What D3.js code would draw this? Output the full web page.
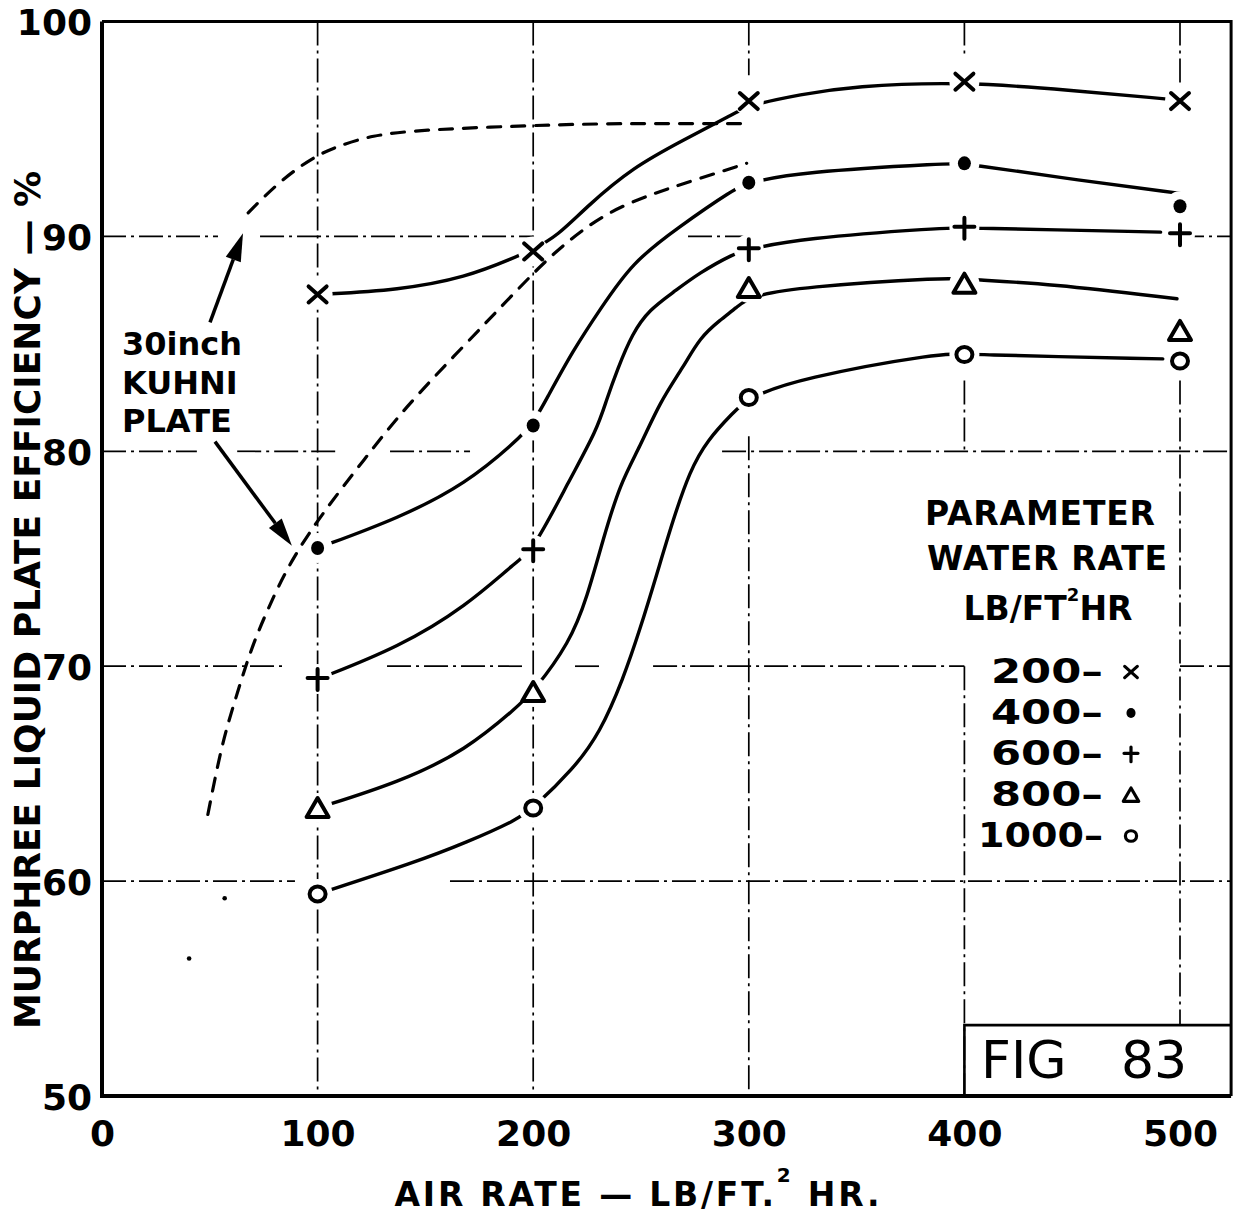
<!DOCTYPE html>
<html>
<head>
<meta charset="utf-8">
<script src="https://cdn.jsdelivr.net/npm/d3@7"></script>
<style>
  body { margin: 0; background: #fff; }
  text { font-family: "DejaVu Sans", sans-serif; font-weight: bold; fill: #000; }
</style>
</head>
<body>
<svg id="chart" width="1233" height="1215"></svg>
<script>
// ---- data ---------------------------------------------------------------
const airRates   = [100, 200, 300, 400, 500];          // lb/ft² hr
const waterRates = [200, 400, 600, 800, 1000];          // parameter, lb/ft² hr
const symbolKinds = ["cross", "dot", "plus", "triangle", "ring"];

// measured Murphree liquid plate efficiency (%) at each air rate
const eff200  = [87.3, 89.3, 96.3, 97.2, 96.3];
const eff400  = [75.5, 81.2, 92.5, 93.4, 91.4];
const eff600  = [69.4, 75.4, 89.4, 90.4, 90.1];
const eff800  = [63.4, 68.8, 87.6, 87.8, 85.6];
const eff1000 = [59.4, 63.4, 82.5, 84.5, 84.2];

// hand-faired curves through the measurements: [air rate, efficiency]
const curve200 = [[100,87.3],[138,87.5],[169,88.1],[191,89.0],[200,89.4],[211,90.0],[225,91.4],[246,93.2],[270,94.5],[293,95.7],[300,96.1],[324,96.6],[348,97.0],[400,97.2],[449,96.8],[493,96.4]];
const curve400 = [[100,75.5],[138,76.9],[169,78.5],[192.5,80.5],[200,81.3],[206,82.4],[218.5,84.7],[231,86.6],[246,88.8],[267,90.4],[293,92.2],[300,92.5],[324,93.0],[393,93.4],[400,93.4],[454,92.6],[500,92.0]];
const curve600 = [[100,69.4],[138,70.9],[169,72.8],[192.5,74.9],[200,75.4],[217,78.7],[229.6,81.0],[234,82.4],[239,83.8],[246,85.5],[254,86.6],[265,87.4],[277,88.3],[293,89.2],[300,89.4],[324,89.9],[389,90.4],[400,90.4],[491,90.2]];
const curve800 = [[100,63.4],[138,64.6],[169,66.1],[192.5,68.1],[200,68.8],[217,71.1],[225,73.2],[232.4,75.9],[240.3,78.5],[249.5,80.2],[258.8,82.3],[269.5,83.9],[277.4,85.3],[286.6,86.1],[294.5,86.7],[300,87.2],[324,87.65],[393,88.1],[400,88.0],[440,87.8],[498.6,87.1]];
const curve1000 = [[100,59.4],[146,60.9],[169,61.8],[192.5,62.85],[200,63.4],[218.5,65.2],[231,66.9],[241.7,69.4],[249.5,71.7],[257.4,74.3],[264.8,76.8],[272.7,79.1],[280.6,80.5],[292.7,81.8],[300,82.5],[323.7,83.4],[390,84.6],[400,84.5],[492,84.3]];

// 30 inch Kuhni plate comparison curves (dashed)
const kuhniUpper = [[67.8,91.1],[82.7,92.6],[98.1,93.7],[109.3,94.2],[125,94.7],[146.7,94.95],[194.9,95.15],[232,95.25],[265,95.25],[297.7,95.25]];
const kuhniLower = [[49.1,63.1],[55.6,66.4],[61.7,68.4],[68.7,70.7],[76.6,72.6],[87.4,74.9],[102.8,77.2],[121.5,79.6],[140.2,82.0],[166.8,84.8],[192.5,87.5],[208.9,89.2],[232.2,91.05],[255.6,92.0],[274.3,92.6],[299,93.4]];
const specks = [[56.9,59.2],[40.4,56.4]];

// axis ticks
const xTicks = [0, 100, 200, 300, 400, 500];
const yTicks = [50, 60, 70, 80, 90, 100];
const xFrameMax = 523.7;

// visible stretches of the ruled grid, in data units
const gridXSpans = [
  [100, [[50,100]]],
  [200, [[50,100]]],
  [300, [[50,80.7],[97.5,100]]],
  [400, [[50,70],[80,83.3],[98.3,100]]],
  [500, [[53.3,83.3],[96.8,100]]]
];
const gridYSpans = [
  [90, [[0,53.8],[73.3,200],[271.8,300],[500,xFrameMax]]],
  [80, [[0,44],[62.7,109],[133.6,170.7],[287.6,xFrameMax]]],
  [70, [[0,85.8],[132.2,196.5],[219.4,232.3],[255.6,400],[500,xFrameMax]]],
  [60, [[0,89.5],[161.4,xFrameMax]]]
];

// annotation arrows [from, to] in data units
const kuhniArrows = [
  [[50.1,86.0],[65.4,90.15]],
  [[52.4,80.45],[88.1,75.6]]
];

// ---- scales -------------------------------------------------------------
const x = d3.scaleLinear().domain([0, 500]).range([102, 1180]);
const y = d3.scaleLinear().domain([50, 100]).range([1096, 21.5]);

const svg = d3.select("#chart");
const series = [eff200, eff400, eff600, eff800, eff1000].map((eff, i) => ({
  rate: waterRates[i], kind: symbolKinds[i], eff,
  curve: [curve200, curve400, curve600, curve800, curve1000][i]
}));

// mask that opens gaps in the grid and the curves around each plotted point
const defs = svg.append("defs");
const mask = defs.append("mask").attr("id", "knock")
  .attr("maskUnits", "userSpaceOnUse")
  .attr("x", 0).attr("y", 0).attr("width", 1233).attr("height", 1215);
mask.append("rect").attr("width", 1233).attr("height", 1215).attr("fill", "#fff");
series.forEach(s => s.eff.forEach((v, j) => {
  mask.append("circle").attr("cx", x(airRates[j])).attr("cy", y(v)).attr("r", 15).attr("fill", "#000");
}));

const masked = svg.append("g").attr("mask", "url(#knock)");

// grid
const grid = masked.append("g").attr("stroke", "#000").attr("stroke-width", 1.7)
  .attr("stroke-dasharray", "24 5 3 5").attr("fill", "none");
gridXSpans.forEach(([gx, spans]) => spans.forEach(([a, b]) => {
  grid.append("line").attr("x1", x(gx)).attr("x2", x(gx)).attr("y1", y(b)).attr("y2", y(a));
}));
gridYSpans.forEach(([gy, spans]) => spans.forEach(([a, b]) => {
  grid.append("line").attr("x1", x(a)).attr("x2", x(b)).attr("y1", y(gy)).attr("y2", y(gy));
}));

// faired curves
const line = d3.line().x(d => x(d[0])).y(d => y(d[1])).curve(d3.curveBasis);
masked.append("g").selectAll("path").data(series).join("path")
  .attr("d", d => line(d.curve))
  .attr("fill", "none").attr("stroke", "#000").attr("stroke-width", 3.4)
  .attr("stroke-linecap", "round");

// Kuhni plate dashed curves
svg.append("g").selectAll("path").data([kuhniUpper, kuhniLower]).join("path")
  .attr("d", d => line(d))
  .attr("fill", "none").attr("stroke", "#000").attr("stroke-width", 3.2)
  .attr("stroke-dasharray", "13 11").attr("stroke-linecap", "round");
svg.append("g").selectAll("circle").data(specks).join("circle")
  .attr("cx", d => x(d[0])).attr("cy", d => y(d[1])).attr("r", 2.3).attr("fill", "#000");

// frame
const fx0 = x(0), fx1 = x(xFrameMax), fy0 = y(50), fy1 = y(100);
svg.append("path").attr("d", `M${fx0},${fy1}H${fx1}V${fy0}`)
  .attr("fill", "none").attr("stroke", "#000").attr("stroke-width", 3);
svg.append("path").attr("d", `M${fx0},${fy1}V${fy0}H${fx1}`)
  .attr("fill", "none").attr("stroke", "#000").attr("stroke-width", 4);

// figure number box
svg.append("path")
  .attr("d", `M${x(400)},${fy0}V${y(53.3)}H${fx1}`)
  .attr("fill", "none").attr("stroke", "#000").attr("stroke-width", 2.6);
svg.append("text").attr("x", 981).attr("y", 1078).attr("font-size", 52)
  .style("font-weight", "normal").text("FIG");
svg.append("text").attr("x", 1121).attr("y", 1078).attr("font-size", 52)
  .style("font-weight", "normal").text("83");

// marker shapes
function drawSymbol(g, kind, s) {
  const sw = 4 * Math.max(s, 0.8);
  if (kind === "cross") {
    g.append("path").attr("d", `M${-9*s},${-8*s}L${9*s},${8*s}M${-9*s},${8*s}L${9*s},${-8*s}`)
      .attr("stroke", "#000").attr("stroke-width", sw).attr("stroke-linecap", "round");
  } else if (kind === "dot") {
    g.append("ellipse").attr("rx", 6.5*s).attr("ry", 7*s).attr("fill", "#000");
  } else if (kind === "plus") {
    g.append("path").attr("d", `M${-10*s},${-1*s}H${10*s}M0,${-10*s}V${11*s}`)
      .attr("stroke", "#000").attr("stroke-width", sw).attr("stroke-linecap", "round");
  } else if (kind === "triangle") {
    g.append("path").attr("d", `M0,${-10*s}L${11*s},${9*s}H${-11*s}Z`)
      .attr("fill", "none").attr("stroke", "#000").attr("stroke-width", sw)
      .attr("stroke-linejoin", "round");
  } else {
    g.append("ellipse").attr("rx", 8*s).attr("ry", 7.5*s)
      .attr("fill", "none").attr("stroke", "#000").attr("stroke-width", sw);
  }
}

const markers = svg.append("g");
series.forEach(s => s.eff.forEach((v, j) => {
  const g = markers.append("g").attr("transform", `translate(${x(airRates[j])},${y(v)})`);
  drawSymbol(g, s.kind, 1);
}));

// axes (labels only; the frame carries the lines)
const xAxis = svg.append("g").attr("transform", `translate(0,${fy0})`)
  .call(d3.axisBottom(x).tickValues(xTicks).tickSize(0).tickPadding(24).tickFormat(d3.format("d")));
const yAxis = svg.append("g").attr("transform", `translate(${fx0},0)`)
  .call(d3.axisLeft(y).tickValues(yTicks).tickSize(0).tickPadding(10).tickFormat(d3.format("d")));
[xAxis, yAxis].forEach(a => {
  a.select(".domain").remove();
  a.selectAll("text").attr("font-size", 36).attr("font-weight", "bold")
    .attr("font-family", "DejaVu Sans").attr("fill", "#000");
});
yAxis.selectAll("text").attr("dy", "0.37em");

// axis titles
const xt = svg.append("text").attr("x", 637).attr("y", 1206).attr("text-anchor", "middle")
  .attr("font-size", 33).attr("textLength", 485).attr("lengthAdjust", "spacing");
xt.append("tspan").text("AIR RATE — LB/FT.");
xt.append("tspan").attr("dy", -24).attr("font-size", 20).text("2");
xt.append("tspan").attr("dy", 24).text(" HR.");

svg.append("text").attr("transform", "translate(40,600) rotate(-90)")
  .attr("text-anchor", "middle").attr("font-size", 35)
  .attr("textLength", 858).attr("lengthAdjust", "spacingAndGlyphs")
  .text("MURPHREE LIQUID PLATE EFFICIENCY — %");

// Kuhni annotation
const note = svg.append("g").attr("font-size", 32);
["30inch", "KUHNI", "PLATE"].forEach((t, i) => {
  note.append("text").attr("x", 122).attr("y", 355 + i * 38.5).text(t);
});
kuhniArrows.forEach(([from, to]) => {
  const x1 = x(from[0]), y1 = y(from[1]), x2 = x(to[0]), y2 = y(to[1]);
  const ang = Math.atan2(y2 - y1, x2 - x1);
  const L = 28, Wd = 8;
  const bx = x2 - L * Math.cos(ang), by = y2 - L * Math.sin(ang);
  svg.append("line").attr("x1", x1).attr("y1", y1).attr("x2", bx).attr("y2", by)
    .attr("stroke", "#000").attr("stroke-width", 3.5);
  svg.append("path")
    .attr("d", `M${x2},${y2}L${bx + Wd*Math.sin(ang)},${by - Wd*Math.cos(ang)}L${bx - Wd*Math.sin(ang)},${by + Wd*Math.cos(ang)}Z`)
    .attr("fill", "#000");
});

// legend
const leg = svg.append("g").attr("font-size", 33);
leg.append("text").attr("x", 1040).attr("y", 525).attr("text-anchor", "middle")
  .attr("textLength", 230).attr("lengthAdjust", "spacing").text("PARAMETER");
leg.append("text").attr("x", 1047).attr("y", 570).attr("text-anchor", "middle")
  .attr("textLength", 240).attr("lengthAdjust", "spacing").text("WATER RATE");
const unit = leg.append("text").attr("x", 1048).attr("y", 620).attr("text-anchor", "middle");
unit.append("tspan").text("LB/FT");
unit.append("tspan").attr("dy", -19).attr("font-size", 18).text("2");
unit.append("tspan").attr("dy", 19).text("HR");
waterRates.forEach((r, i) => {
  const by = 683 + i * 41;
  const label = `${r}–`;
  leg.append("text").attr("x", 1103).attr("y", by).attr("text-anchor", "end")
    .attr("textLength", label.length > 4 ? 125 : 112).attr("lengthAdjust", "spacingAndGlyphs")
    .text(label);
  const g = leg.append("g").attr("transform", `translate(1131,${by - 11})`);
  drawSymbol(g, symbolKinds[i], 0.7);
});
</script>
</body>
</html>
